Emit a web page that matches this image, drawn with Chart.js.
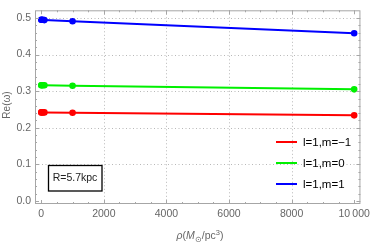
<!DOCTYPE html>
<html>
<head>
<meta charset="utf-8">
<script src="https://cdn.jsdelivr.net/npm/chart.js@4/dist/chart.umd.min.js"></script>
<style>
  html, body { margin: 0; padding: 0; background: #fff; }
  #wrap { width: 374px; height: 244px; }
</style>
</head>
<body>
<div id="wrap"><canvas id="myChart" width="374" height="244"></canvas></div>
<script>
// density values (M_sun/pc^3)
const rho = [0, 10, 50, 100, 1000, 10000];
const reM1 = [0.242, 0.242, 0.242, 0.242, 0.241, 0.234];   // l=1,m=-1
const reM0 = [0.316, 0.316, 0.316, 0.316, 0.315, 0.305];   // l=1,m=0
const reP1 = [0.495, 0.495, 0.495, 0.494, 0.491, 0.458];   // l=1,m=1
const labels = ['l=1,m=\u22121', 'l=1,m=0', 'l=1,m=1'];
const colors = ['#ff0000', '#00f000', '#0000ff'];
const xTicks = [0, 2000, 4000, 6000, 8000, 10000];
const yTicks = [0, 0.1, 0.2, 0.3, 0.4, 0.5];

const FONT = '"Liberation Sans", Arial, sans-serif';

function pts(ys) {
    return rho.map((x, i) => ({ x: x, y: ys[i] }));
}

const series = [reM1, reM0, reP1];
const datasets = series.map((ys, i) => ({
    label: labels[i],
    data: pts(ys),
    showLine: true,
    borderColor: colors[i],
    backgroundColor: colors[i],
    borderWidth: 2,
    pointRadius: 2.3,
    pointHoverRadius: 2.3
}));

const framePlugin = {
    id: 'frame',
    beforeDatasetsDraw(chart) {
        const { ctx, chartArea: a, scales: { x, y } } = chart;
        ctx.save();
        ctx.strokeStyle = '#b8b8b8';
        ctx.lineWidth = 1;
        ctx.setLineDash([1, 2.5]);
        [2000, 4000, 6000, 8000].forEach(v => {
            const px = Math.round(x.getPixelForValue(v)) + 0.5;
            ctx.beginPath(); ctx.moveTo(px, a.top); ctx.lineTo(px, a.bottom); ctx.stroke();
        });
        [0.1, 0.2, 0.3, 0.4, 0.5].forEach(v => {
            const py = Math.round(y.getPixelForValue(v)) + 0.5;
            ctx.beginPath(); ctx.moveTo(a.left, py); ctx.lineTo(a.right, py); ctx.stroke();
        });
        ctx.restore();
    },
    afterDraw(chart) {
        const { ctx, chartArea: a, scales: { x, y } } = chart;
        ctx.save();
        // frame
        ctx.strokeStyle = '#a6a6a6';
        ctx.lineWidth = 1;
        ctx.setLineDash([]);
        ctx.strokeRect(a.left + 0.5, a.top + 0.5, a.right - a.left - 1, a.bottom - a.top - 1);
        // x ticks (major + minor), bottom and top
        for (let v = 0; v <= 10000; v += 500) {
            const px = Math.round(x.getPixelForValue(v)) + 0.5;
            const len = v % 2000 === 0 ? 4 : 2;
            ctx.beginPath();
            ctx.moveTo(px, a.bottom); ctx.lineTo(px, a.bottom - len);
            ctx.moveTo(px, a.top); ctx.lineTo(px, a.top + len);
            ctx.stroke();
        }
        // y ticks, left and right
        for (let k = 0; k <= 25; k++) {
            const v = k * 0.02;
            const py = Math.round(y.getPixelForValue(v)) + 0.5;
            const len = k % 5 === 0 ? 4 : 2;
            ctx.beginPath();
            ctx.moveTo(a.left, py); ctx.lineTo(a.left + len, py);
            ctx.moveTo(a.right, py); ctx.lineTo(a.right - len, py);
            ctx.stroke();
        }

        // legend inside plot
        ctx.font = '11.5px ' + FONT;
        ctx.textBaseline = 'middle';
        ctx.textAlign = 'left';
        const ly = [142, 163, 184];
        chart.data.datasets.forEach((ds, i) => {
            ctx.strokeStyle = ds.borderColor;
            ctx.lineWidth = 2;
            ctx.beginPath(); ctx.moveTo(276, ly[i]); ctx.lineTo(297, ly[i]); ctx.stroke();
            ctx.fillStyle = '#000';
            ctx.fillText(ds.label, 303, ly[i] + 0.5);
        });

        // annotation box
        ctx.fillStyle = '#fff';
        ctx.fillRect(48, 165, 54, 26);
        ctx.strokeStyle = '#000';
        ctx.lineWidth = 1.3;
        ctx.strokeRect(48.5, 165.5, 53.5, 25.5);
        ctx.fillStyle = '#222';
        ctx.font = '10.5px ' + FONT;
        ctx.textAlign = 'center';
        ctx.fillText('R=5.7kpc', 75, 178.5);

        // y title
        ctx.fillStyle = '#666';
        ctx.font = '10px ' + FONT;
        ctx.save();
        ctx.translate(7, 105);
        ctx.rotate(-Math.PI / 2);
        ctx.textAlign = 'center';
        ctx.fillText('Re(\u03c9)', 0, 0);
        ctx.restore();

        // x title: rho(M_sun/pc^3)
        const parts = [
            { t: '\u03c1', f: 'italic 10.5px ', dy: 0 },
            { t: '(', f: '10.5px ', dy: 0 },
            { t: 'M', f: 'italic 10.5px ', dy: 0 },
            { t: '\u2299', f: '7.5px ', dy: 3 },
            { t: '/pc', f: '10.5px ', dy: 0 },
            { t: '3', f: '7.5px ', dy: -4 },
            { t: ')', f: '10.5px ', dy: 0 }
        ];
        ctx.textAlign = 'left';
        ctx.textBaseline = 'alphabetic';
        let w = 0;
        parts.forEach(p => { ctx.font = p.f + FONT; p.w = ctx.measureText(p.t).width; w += p.w; });
        let cx = 200 - w / 2;
        parts.forEach(p => {
            ctx.font = p.f + FONT;
            ctx.fillText(p.t, cx, 239 + p.dy);
            cx += p.w;
        });
        ctx.restore();
    }
};

const ctx = document.getElementById('myChart').getContext('2d');
new Chart(ctx, {
    type: 'scatter',
    data: { datasets: datasets },
    options: {
        responsive: false,
        animation: false,
        events: [],
        layout: { padding: { left: 0, right: 9, top: 1, bottom: 0 } },
        plugins: { legend: { display: false }, tooltip: { enabled: false } },
        scales: {
            x: {
                type: 'linear',
                min: -200,
                max: 10200,
                afterFit: s => { s.height = 40; },
                afterBuildTicks: s => { s.ticks = xTicks.map(v => ({ value: v })); },
                grid: { display: false, drawTicks: false },
                border: { display: false },
                ticks: {
                    padding: 4,
                    color: '#666',
                    font: { family: FONT, size: 10.5 },
                    maxRotation: 0,
                    callback: v => v === 10000 ? '10\u2009000' : String(v)
                }
            },
            y: {
                type: 'linear',
                min: -0.008,
                max: 0.5208,
                afterFit: s => { s.width = 35; },
                afterBuildTicks: s => { s.ticks = yTicks.map(v => ({ value: v })); },
                grid: { display: false, drawTicks: false },
                border: { display: false },
                ticks: {
                    padding: 4,
                    color: '#666',
                    font: { family: FONT, size: 10.5 },
                    callback: v => v.toFixed(1)
                }
            }
        }
    },
    plugins: [framePlugin]
});
</script>
</body>
</html>
